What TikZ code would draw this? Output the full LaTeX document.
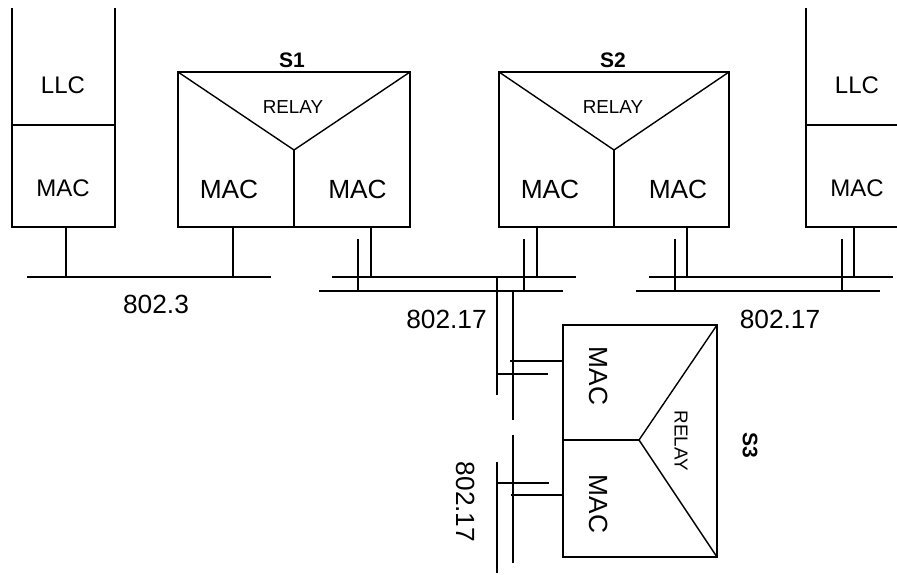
\documentclass[tikz,border=0pt]{standalone}
\usepackage{fontspec}
\setmainfont{Liberation Sans}
\begin{document}
\begin{tikzpicture}[x=1pt,y=-1pt,line width=1.4pt,
  big/.style={font=\fontsize{26.3}{27}\selectfont},
  mid/.style={font=\fontsize{24}{25}\selectfont},
  small/.style={font=\fontsize{18.8}{19}\selectfont},
  title/.style={font=\fontsize{21}{22}\selectfont\bfseries},
  box/.style={draw,rectangle,inner sep=0pt}]
\useasboundingbox (0,0) rectangle (897,574);
% left station
\draw (12,8) -- (12,227) -- (115,227) -- (115,8);
\draw (12,125) -- (115,125);
\node[mid] (llcL) at (63,85) {LLC};
\node[mid] (macL) at (63,188) {MAC};
% right station
\draw (806,8) -- (806,227) -- (897,227);
\draw (806,125) -- (897,125);
\node[mid] (llcR) at (857,85) {LLC};
\node[mid] (macR) at (857,188) {MAC};
% S1
\node[box,minimum width=232pt,minimum height=155pt] (s1) at (294,149.5) {};
\draw (178,72) -- (294,150) -- (410,72);
\draw (294,150) -- (294,227);
\node[title] at (292,60) {S1};
\node[small] at (293,107) {RELAY};
\node[big] (s1a) at (229,189) {MAC};
\node[big] (s1b) at (357.5,189) {MAC};
% S2
\node[box,minimum width=230pt,minimum height=155pt] (s2) at (614,149.5) {};
\draw (499,72) -- (614,150) -- (729,72);
\draw (614,150) -- (614,227);
\node[title] at (613,60) {S2};
\node[small] at (613,107) {RELAY};
\node[big] (s2a) at (550,189) {MAC};
\node[big] (s2b) at (678,189) {MAC};
% S3
\node[box,minimum width=154pt,minimum height=232pt] (s3) at (640,441) {};
\draw (717,325) -- (639,440) -- (717,557);
\draw (563,440) -- (639,440);
\node[title,rotate=-90] at (750,445) {S3};
\node[small,rotate=-90] at (681,441) {RELAY};
\node[big,rotate=-90] (s3a) at (599,376) {MAC};
\node[big,rotate=-90] (s3b) at (599,504) {MAC};
% 802.3 bus
\draw (27,277) -- (271,277);
\draw (66,227) -- (66,277);
\draw (233,227) -- (233,277);
\node[big] at (156,304) {802.3};
% middle 802.17 bus
\draw (332,277) -- (576,277);
\draw (319,291) -- (563,291);
\draw (371,227) -- (371,277);
\draw (358,239) -- (358,291);
\draw (537,227) -- (537,277);
\draw (524,239) -- (524,291);
\node[big] at (446.5,319) {802.17};
% right 802.17 bus
\draw (649,277) -- (893,277);
\draw (636,291) -- (880,291);
\draw (687,227) -- (687,277);
\draw (675,239) -- (675,291);
\draw (854,227) -- (854,277);
\draw (842,239) -- (842,291);
\node[big] at (780,319) {802.17};
% vertical 802.17 bus (upper part)
\draw (497,277) -- (497,395);
\draw (513,291) -- (513,420);
\draw (510,361) -- (563,361);
\draw (496,374) -- (548,374);
% vertical 802.17 bus (lower part)
\draw (513,435) -- (513,563);
\draw (497,462) -- (497,573);
\draw (497,483) -- (549,483);
\draw (511,495) -- (563,495);
\node[big,rotate=-90] at (466,502) {802.17};
\end{tikzpicture}
\end{document}
